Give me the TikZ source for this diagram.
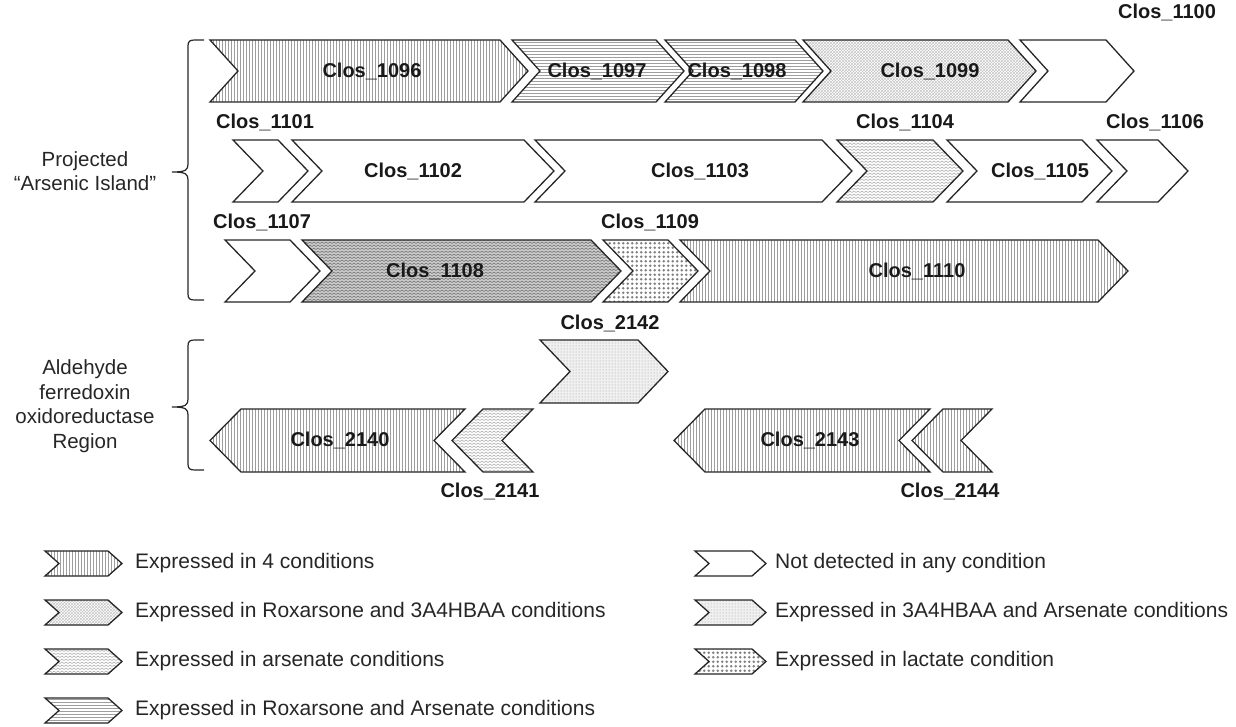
\documentclass[tikz,border=0pt]{standalone}
\usepackage{fontspec}
\setmainfont{Liberation Sans}
\usetikzlibrary{patterns}

\pgfdeclarepatternformonly{zigzag}{\pgfpoint{-1pt}{-1pt}}{\pgfpoint{5pt}{4pt}}{\pgfpoint{4pt}{3pt}}{%
  \pgfsetlinewidth{0.45pt}%
  \pgfpathmoveto{\pgfpoint{0pt}{0.5pt}}%
  \pgfpathlineto{\pgfpoint{2pt}{2pt}}%
  \pgfpathlineto{\pgfpoint{4pt}{0.5pt}}%
  \pgfusepath{stroke}}
\pgfdeclarepatternformonly{bigdots}{\pgfpoint{-1pt}{-1pt}}{\pgfpoint{5.5pt}{5.5pt}}{\pgfpoint{4.5pt}{4.5pt}}{%
  \pgfpathcircle{\pgfpoint{2.25pt}{2.25pt}}{1.45pt}%
  \pgfusepath{fill}}

\def\dd{30}
\newcommand\generight[5]{%
  \path[gene,#1] (#2,#4) -- (#3,#4) -- ({#3+\dd},{(#4+#5)/2}) -- (#3,#5) -- (#2,#5) -- ({#2+\dd},{(#4+#5)/2}) -- cycle;}
\newcommand\geneleft[5]{%
  \path[gene,#1] ({#2+\dd},#4) -- (#3,#4) -- ({#3-\dd},{(#4+#5)/2}) -- (#3,#5) -- ({#2+\dd},#5) -- (#2,{(#4+#5)/2}) -- cycle;}

\tikzset{
  gene/.style={draw=black!85, line width=1.3pt, line join=miter},
  pnone/.style={fill=white},
  pfour/.style={preaction={fill=white}, pattern=vertical lines, pattern color=black!38},
  proxhb/.style={preaction={fill=white}, pattern=crosshatch, pattern color=black!22},
  parsen/.style={preaction={fill=white}, pattern=zigzag, pattern color=black!40},
  parsendark/.style={preaction={fill=black!20}, pattern=zigzag, pattern color=black!65},
  proxars/.style={preaction={fill=white}, pattern=horizontal lines, pattern color=black!38},
  phbars/.style={preaction={fill=black!6}, pattern=dots, pattern color=black!40},
  plact/.style={preaction={fill=white}, pattern=bigdots, pattern color=black!50},
  glabel/.style={font=\fontsize{20}{24}\selectfont\bfseries, text=black!90, inner sep=0pt},
  side/.style={font=\fontsize{20.5}{25}\selectfont, text=black!85, align=center, inner sep=0pt},
  legtext/.style={font=\fontsize{21}{25}\selectfont, text=black!85, anchor=west, inner sep=0pt},
  brace/.style={draw=black!85, line width=1.2pt},
}

\begin{document}
\begin{tikzpicture}[x=1pt,y=-1pt]
\useasboundingbox (0,0) rectangle (1236,727);

% ---------- row 1 ----------
\def\dd{28}
\generight{pfour}{210}{500}{40}{102}
\generight{proxars}{512}{656}{40}{102}
\generight{proxars}{665}{795}{40}{102}
\generight{proxhb}{803}{1008}{40}{102}
\generight{pnone}{1020}{1106}{40}{102}
\node[glabel] (c1096) at (372,71) {Clos\_1096};
\node[glabel] (c1097) at (597,71) {Clos\_1097};
\node[glabel] (c1098) at (737,71) {Clos\_1098};
\node[glabel] (c1099) at (930,71) {Clos\_1099};
\node[glabel] (c1100) at (1167,12) {Clos\_1100};

% ---------- row 2 ----------
\def\dd{30}
\generight{pnone}{233}{278}{140}{202}
\generight{pnone}{292}{524}{140}{202}
\generight{pnone}{535}{822}{140}{202}
\generight{parsen}{837}{933}{140}{202}
\generight{pnone}{947}{1082}{140}{202}
\generight{pnone}{1097}{1158}{140}{202}
\node[glabel] (c1101) at (265,122) {Clos\_1101};
\node[glabel] (c1104) at (905,122) {Clos\_1104};
\node[glabel] (c1106) at (1155,122) {Clos\_1106};
\node[glabel] (c1102) at (413,171) {Clos\_1102};
\node[glabel] (c1103) at (700,171) {Clos\_1103};
\node[glabel] (c1105) at (1040,171) {Clos\_1105};

% ---------- row 3 ----------
\generight{pnone}{225}{290}{240}{302}
\generight{parsendark}{302}{591}{240}{302}
\generight{plact}{603}{668}{240}{302}
\generight{pfour}{680}{1098}{240}{302}
\node[glabel] (c1107) at (262,222) {Clos\_1107};
\node[glabel] (c1109) at (650,222) {Clos\_1109};
\node[glabel] (c1108) at (435,271) {Clos\_1108};
\node[glabel] (c1110) at (917,271) {Clos\_1110};

% ---------- aldehyde region ----------
\generight{phbars}{540}{638}{340}{403}
\node[glabel] (c2142) at (610,323) {Clos\_2142};
\def\dd{31}
\geneleft{pfour}{210}{465}{409}{472}
\geneleft{parsen}{452}{533}{409}{472}
\geneleft{pfour}{674}{930}{409}{472}
\geneleft{pfour}{912}{992}{409}{472}
\node[glabel] (c2140) at (340,440) {Clos\_2140};
\node[glabel] (c2143) at (810,440) {Clos\_2143};
\node[glabel] (c2141) at (490,491) {Clos\_2141};
\node[glabel] (c2144) at (950,491) {Clos\_2144};

% ---------- braces and side labels ----------
\draw[brace] (204,40) -- (195,40) .. controls (190,40) and (188,41) .. (188,46) -- (188,164)
  .. controls (188,170) and (186,172) .. (172,172)
  .. controls (186,172) and (188,174) .. (188,180) -- (188,294)
  .. controls (188,299) and (190,300) .. (195,300) -- (204,300);
\draw[brace] (204,340) -- (195,340) .. controls (190,340) and (188,341) .. (188,346) -- (188,399)
  .. controls (188,405) and (186,407) .. (172,407)
  .. controls (186,407) and (188,409) .. (188,415) -- (188,464)
  .. controls (188,469) and (190,470) .. (195,470) -- (204,470);
\node[side] (island) at (85,171) {Projected\\[-0.5pt]“Arsenic Island”};
\node[side] (aor) at (85,406) {Aldehyde\\[-0.5pt]ferredoxin\\[-0.5pt]oxidoreductase\\[-0.5pt]Region};

% ---------- legend ----------
\def\dd{14}
\generight{pfour}{45}{108}{551}{576}
\generight{proxhb}{45}{108}{600}{625}
\generight{parsen}{45}{108}{649}{674}
\generight{proxars}{45}{108}{698}{723}
\node[legtext] (l1) at (135,563) {Expressed in 4 conditions};
\node[legtext] (l2) at (135,612) {Expressed in Roxarsone and 3A4HBAA conditions};
\node[legtext] (l3) at (135,661) {Expressed in arsenate conditions};
\node[legtext] (l4) at (135,710) {Expressed in Roxarsone and Arsenate conditions};
\generight{pnone}{695}{752}{551}{576}
\generight{phbars}{695}{752}{600}{625}
\generight{plact}{695}{752}{649}{674}
\node[legtext] (r1) at (775,563) {Not detected in any condition};
\node[legtext] (r2) at (775,612) {Expressed in 3A4HBAA and Arsenate conditions};
\node[legtext] (r3) at (775,661) {Expressed in lactate condition};
\end{tikzpicture}
\end{document}
